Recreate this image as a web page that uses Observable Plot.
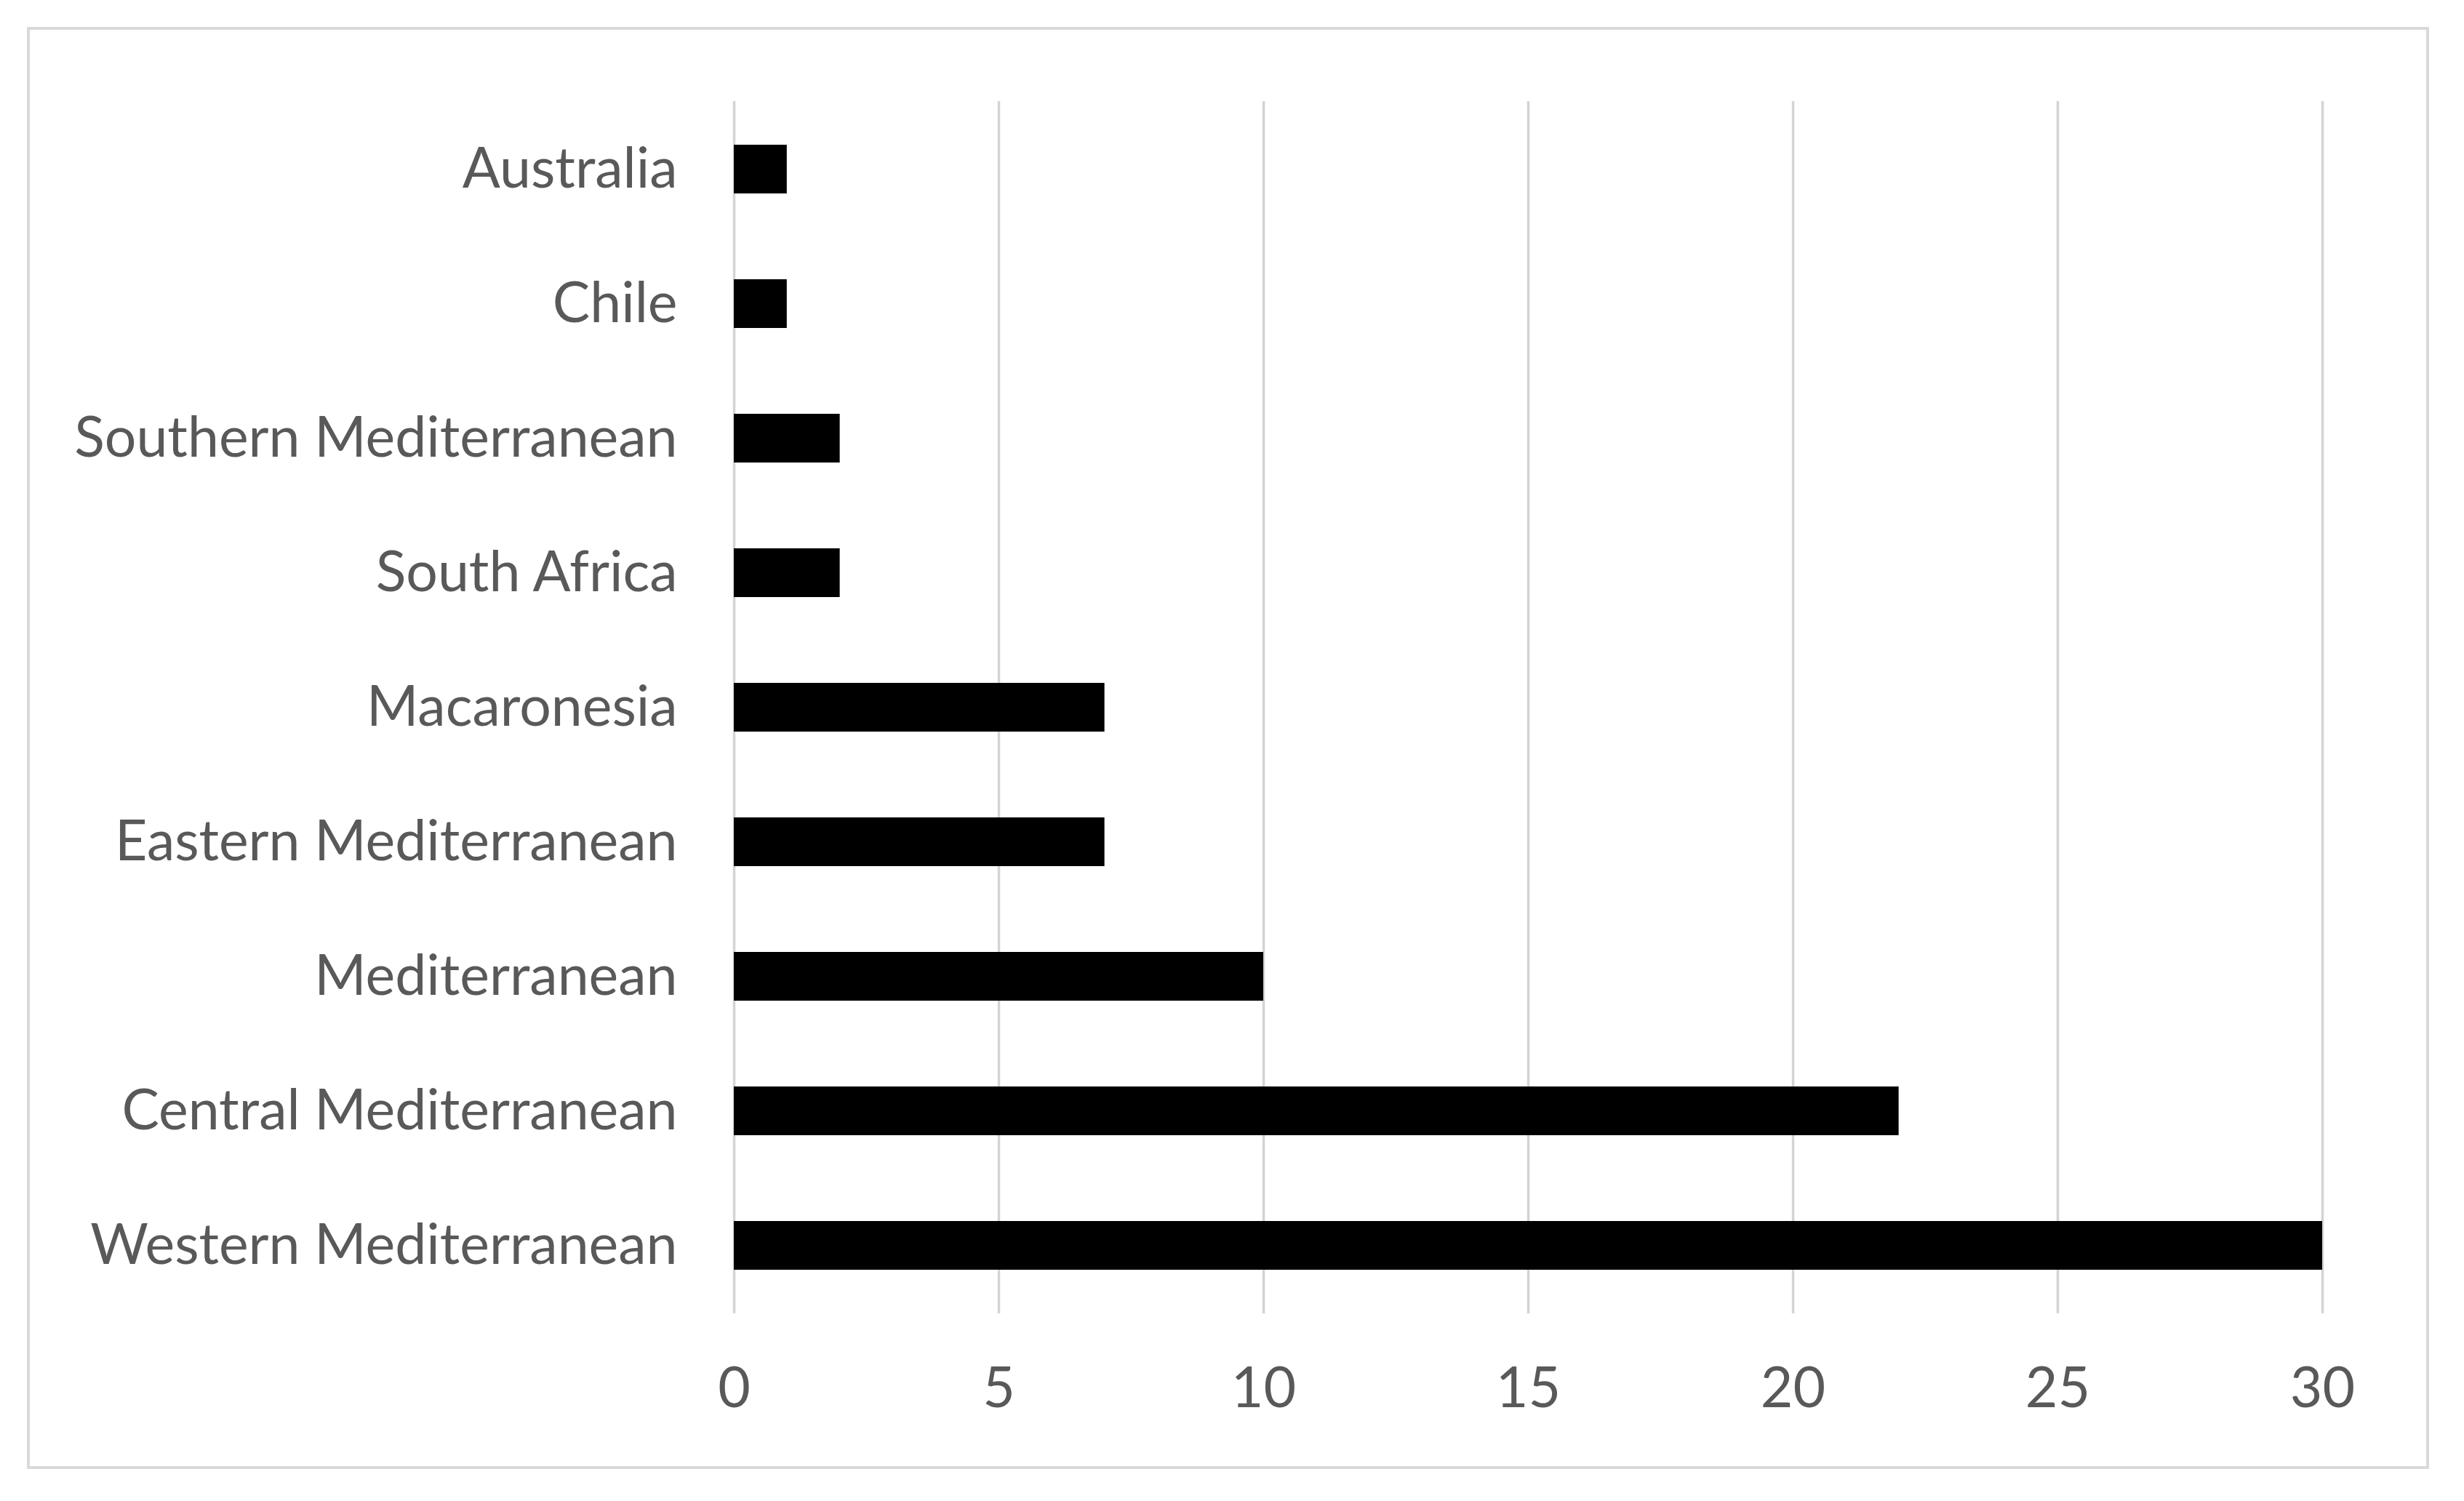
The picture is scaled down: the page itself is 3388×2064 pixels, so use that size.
<!DOCTYPE html>
<html><head><meta charset="utf-8">
<script src="https://cdn.jsdelivr.net/npm/d3@7"></script>
<script src="https://cdn.jsdelivr.net/npm/@observablehq/plot@0.6"></script>
<style>
html,body{margin:0;padding:0;background:#fff;}
#frame{position:absolute;left:37px;top:37px;width:3303px;height:1983px;border:4px solid #d9d9d9;box-sizing:border-box;}
#chart{position:absolute;left:0;top:0;}
</style></head><body>
<div id="frame"></div>
<div id="chart"></div>
<script>
const regions = ["Australia","Chile","Southern Mediterranean","South Africa","Macaronesia","Eastern Mediterranean","Mediterranean","Central Mediterranean","Western Mediterranean"];
const counts = [1,1,2,2,7,7,10,22,30];
const xTicks = [0,5,10,15,20,25,30];
const data = regions.map((r,i)=>({region:r,count:counts[i]}));
const plot = Plot.plot({
  width:3388, height:2064,
  marginLeft:1009, marginRight:195, marginTop:139, marginBottom:258,
  style:{fontFamily:"Lato", fontSize:"77px", color:"#595959", background:"transparent", overflow:"visible"},
  x:{domain:[0,30]},
  y:{domain:regions, paddingInner:0.64, paddingOuter:0.32},
  marks:[
    Plot.gridX(xTicks,{stroke:"#d4d4d4", strokeOpacity:1, strokeWidth:3.5}),
    Plot.barX(data,{x:"count", y:"region", fill:"#000"}),
    Plot.axisX(xTicks,{tickSize:0, tickPadding:74, fill:"#595959", label:null}),
    Plot.axisY({tickSize:0, tickPadding:78, fill:"#595959", label:null})
  ]
});
document.getElementById("chart").appendChild(plot);
</script>
</body></html>
